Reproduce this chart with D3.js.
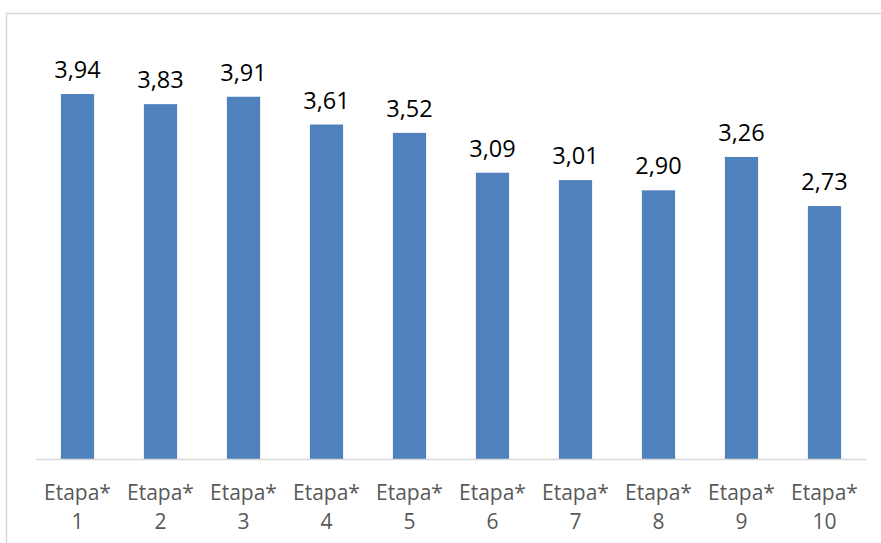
<!DOCTYPE html>
<meta charset="utf-8">
<script src="https://d3js.org/d3.v7.min.js"></script>
<style>
  body { margin: 0; background: #fff; }
  text { font-family: "Open Sans", "Liberation Sans", sans-serif; }
</style>
<div id="chart"></div>
<script>

// data
var etapas = ["1", "2", "3", "4", "5", "6", "7", "8", "9", "10"]
var valores = [3.94, 3.83, 3.91, 3.61, 3.52, 3.09, 3.01, 2.90, 3.26, 2.73]
var categoria = "Etapa*"

var width = 881
var height = 543

var svg = d3.select("#chart").append("svg")
  .attr("width", width)
  .attr("height", height)

// chart frame (runs past the right and bottom edges)
svg.append("rect")
  .attr("x", 6.5).attr("y", 13.5)
  .attr("width", 900).attr("height", 560)
  .attr("fill", "#fff")
  .attr("stroke", "#d9d9d9")
  .attr("stroke-width", 1.5)

var left = 36, right = 866, base = 459

var x = d3.scaleBand()
  .domain(etapas)
  .range([left, right])
  .paddingInner(0.6)
  .paddingOuter(0.3)

var y = d3.scaleLinear()
  .domain([0, 4.5])
  .range([base, base - 4.5 * 92.65])

svg.append("g")
  .selectAll("rect")
  .data(valores)
  .join("rect")
  .attr("x", (d, i) => x(etapas[i]))
  .attr("y", d => y(d))
  .attr("width", x.bandwidth())
  .attr("height", d => y(0) - y(d))
  .attr("fill", "#4f81bd")

// value labels
svg.append("g")
  .selectAll("text")
  .data(valores)
  .join("text")
  .attr("x", (d, i) => x(etapas[i]) + x.bandwidth() / 2)
  .attr("y", d => y(d) - 16)
  .attr("text-anchor", "middle")
  .attr("font-size", 23.5)
  .attr("fill", "#000")
  .text(d => d.toFixed(2).replace(".", ","))

// x axis line
svg.append("line")
  .attr("x1", left).attr("x2", right)
  .attr("y1", base + 0.5).attr("y2", base + 0.5)
  .attr("stroke", "#d9d9d9")
  .attr("stroke-width", 1.5)

// category labels, two lines
var cat = svg.append("g")
  .selectAll("text")
  .data(etapas)
  .join("text")
  .attr("text-anchor", "middle")
  .attr("font-size", 21)
  .attr("fill", "#595959")

cat.append("tspan")
  .attr("x", d => x(d) + x.bandwidth() / 2)
  .attr("y", 500)
  .text(categoria)

cat.append("tspan")
  .attr("x", d => x(d) + x.bandwidth() / 2)
  .attr("y", 529)
  .text(d => d)

</script>
